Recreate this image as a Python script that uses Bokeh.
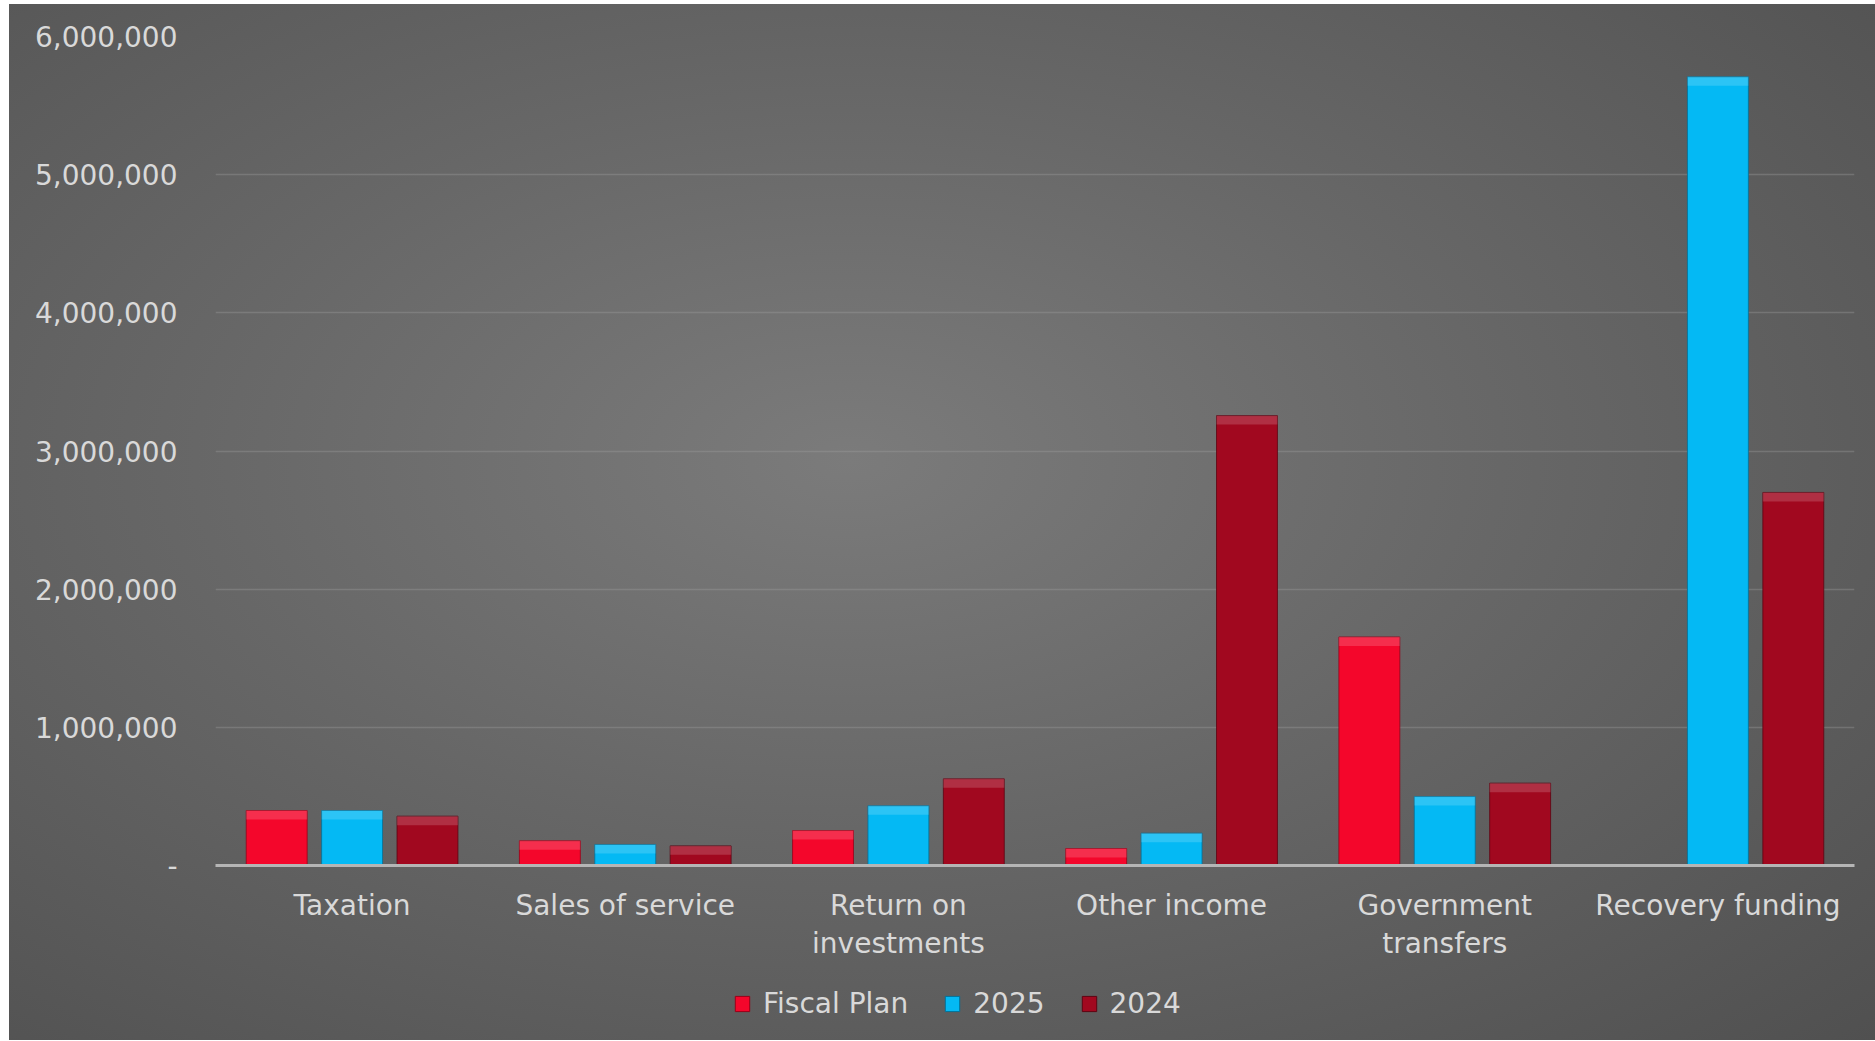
from bokeh.plotting import figure
from bokeh.layouts import column
from bokeh.models import (ColumnDataSource, Range1d, FixedTicker, LinearAxis,
                          NumeralTickFormatter, Legend, LegendItem)
from bokeh.transform import dodge
from bokeh.embed import file_html
from bokeh.resources import INLINE

categories = ["Taxation", "Sales of service", "Return on investments",
              "Other income", "Government transfers", "Recovery funding"]
label_line1 = ["Taxation", "Sales of service", "Return on",
               "Other income", "Government", "Recovery funding"]
label_line2 = ["", "", "investments", "", "transfers", ""]
fiscal_plan = [398000, 179000, 253000, 123000, 1654000, 0]
y2025 = [398000, 152000, 432000, 234000, 499000, 5708000]
y2024 = [357000, 142000, 627000, 3256000, 596000, 2700000]
series_names = ["Fiscal Plan", "2025", "2024"]
series_colors = ["#f4062b", "#04b9f4", "#a1081f"]
series_edges = ["#9a0018", "#02729a", "#5e0412"]
y_ticks = [0, 1000000, 2000000, 3000000, 4000000, 5000000, 6000000]

# category slots on a numeric axis (slot i is centred at i + 0.5)
x_centers = [i + 0.5 for i in range(len(categories))]

BEVEL = 65000  # height of the lighter top band of each bar (style)
src = ColumnDataSource(dict(
    x=x_centers, cat=categories, fp=fiscal_plan, a=y2025, b=y2024,
    fp_b=[max(v - BEVEL, 0) for v in fiscal_plan],
    a_b=[max(v - BEVEL, 0) for v in y2025],
    b_b=[max(v - BEVEL, 0) for v in y2024]))

FONT = "DejaVu Sans"
TXT = "#d9d9d9"

p = figure(width=1866, height=971, x_range=Range1d(0, len(categories)),
           y_range=Range1d(0, 6000000), output_backend="svg",
           toolbar_location=None, min_border_left=206, min_border_right=21,
           min_border_top=32, min_border_bottom=110)

p.background_fill_alpha = 0
p.border_fill_alpha = 0
p.outline_line_color = None

W = 0.223
OFF = 0.276
offsets = [-OFF, 0, OFF]
tops = ["fp", "a", "b"]
bar_renderers = []
for off, top, fc, lc in zip(offsets, tops, series_colors, series_edges):
    r = p.vbar(x=dodge("x", off), top=top, width=W, source=src,
               fill_color=fc, line_color=lc, line_width=1, line_alpha=0.8)
    bar_renderers.append(r)
    # bevel highlight on top of each bar
    p.vbar(x=dodge("x", off), top=top, bottom=top + "_b", width=W, source=src,
           fill_color="white", fill_alpha=0.16, line_color=None)

# y axis
p.yaxis.ticker = FixedTicker(ticks=y_ticks)
p.yaxis.formatter = NumeralTickFormatter(format="0,0")
p.yaxis.major_label_overrides = {0: "-"}
p.yaxis.axis_line_color = None
p.yaxis.major_tick_line_color = None
p.yaxis.minor_tick_line_color = None
p.yaxis.major_label_standoff = 32
p.yaxis.major_label_text_font = FONT
p.yaxis.major_label_text_font_size = "28px"
p.yaxis.major_label_text_color = TXT

# x axis: first line of each category label
xa = p.xaxis[0]
xa.ticker = FixedTicker(ticks=x_centers)
xa.major_label_overrides = dict(zip(x_centers, label_line1))
xa.axis_line_color = "#b5b5b5"
xa.axis_line_width = 3
xa.major_tick_line_color = None
xa.minor_tick_line_color = None
xa.major_label_standoff = 17
xa.major_label_text_font = FONT
xa.major_label_text_font_size = "28px"
xa.major_label_text_color = TXT

# second line of the wrapped category labels
xa2 = LinearAxis(ticker=FixedTicker(ticks=x_centers),
                 major_label_overrides=dict(zip(x_centers, label_line2)),
                 axis_line_color=None, major_tick_line_color=None,
                 minor_tick_line_color=None, major_label_standoff=-4,
                 major_label_text_font=FONT, major_label_text_font_size="28px",
                 major_label_text_color=TXT)
p.add_layout(xa2, "below")

p.xgrid.visible = False
p.ygrid.grid_line_color = "#a0a0a0"
p.ygrid.grid_line_alpha = 0.35
p.ygrid.grid_line_width = 1.5

# legend strip below the chart (hidden copies of the series supply the swatches)
lg = figure(width=1866, height=65, x_range=Range1d(0, len(categories)),
            y_range=Range1d(0, 6000000), x_axis_type=None, y_axis_type=None,
            output_backend="svg", toolbar_location=None, min_border=0)
lg.background_fill_alpha = 0
lg.border_fill_alpha = 0
lg.outline_line_color = None
lg.grid.visible = False
items = []
for name, off, top, fc, lc in zip(series_names, offsets, tops, series_colors, series_edges):
    rr = lg.vbar(x=dodge("x", off), top=top, width=W, source=src, fill_color=fc,
                 line_color=lc, line_width=1, visible=False)
    items.append(LegendItem(label=name, renderers=[rr]))

legend = Legend(items=items, orientation="horizontal", location=(518, 20),
                glyph_width=18, glyph_height=19, label_standoff=12, spacing=35,
                padding=0, margin=0, background_fill_alpha=0, border_line_alpha=0,
                inactive_fill_alpha=0,
                label_text_font=FONT, label_text_font_size="28px",
                label_text_color=TXT)
lg.add_layout(legend, "center")

layout = column(p, lg, spacing=0)
layout.styles = {"background": "radial-gradient(ellipse farthest-corner at 45% 44%, #7b7b7b 0%, #676767 45%, #505050 100%)",
                 "margin-left": "9px", "margin-top": "4px"}

open("out.html", "w").write(file_html(layout, INLINE))
